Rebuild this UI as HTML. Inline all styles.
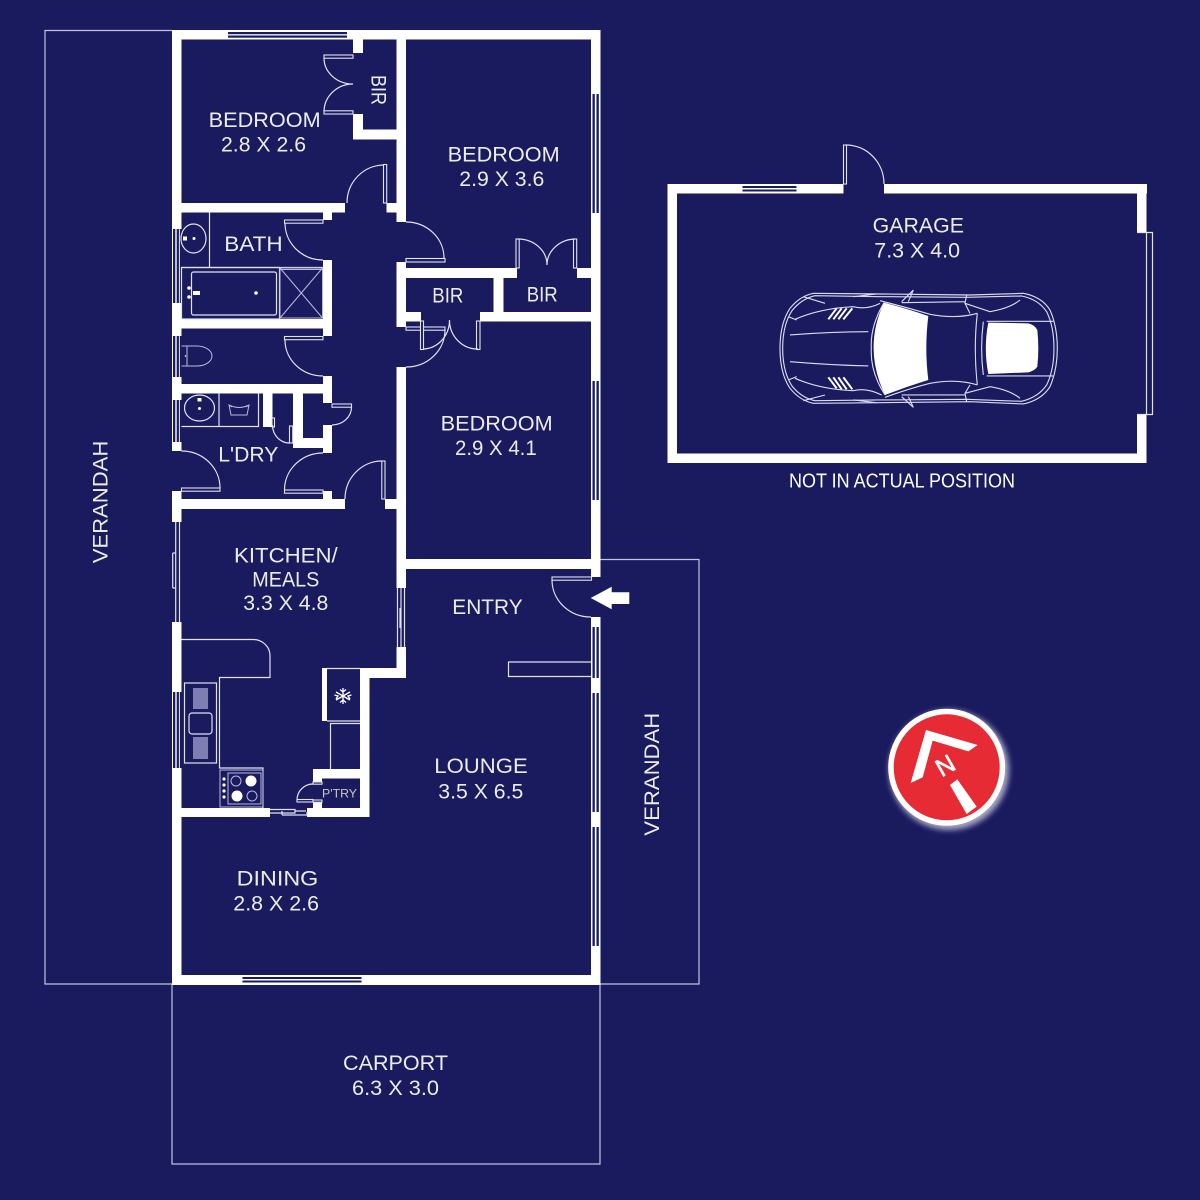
<!DOCTYPE html>
<html><head><meta charset="utf-8"><title>Floor plan</title>
<style>
html,body{margin:0;padding:0;background:#1a1a5f}
svg{display:block}
text{font-family:"Liberation Sans",sans-serif;fill:#ecece6;font-size:21px}
.l{fill:none;stroke:#e2e2f2;stroke-width:1.2}
.d{fill:#1a1a5f;stroke:#e2e2f2;stroke-width:1.1}
.f{fill:none;stroke:#b9b9dc;stroke-width:1}
.c{fill:none;stroke:#dcdcf0;stroke-width:3.4}
</style></head><body>
<svg width="1200" height="1200" viewBox="0 0 1200 1200" xmlns="http://www.w3.org/2000/svg">
<defs><filter id="b" x="-30%" y="-30%" width="160%" height="160%"><feGaussianBlur stdDeviation="3"/></filter></defs>
<rect width="1200" height="1200" fill="#1a1a5f"/>

<g fill="none" stroke="#c4c4e2" stroke-width="1.2">
<path d="M172 30.5H45V984H172"/>
<path d="M600 559.5H699V984H600"/>
<rect x="172" y="984" width="428" height="180"/>
</g>

<g fill="#fff">
<rect x="172" y="30" width="428" height="9.5"/>
<rect x="172" y="30" width="9.5" height="421"/>
<rect x="172" y="491" width="9.5" height="494"/>
<rect x="591" y="30" width="9.5" height="547"/>
<rect x="591" y="617" width="9.5" height="368"/>
<rect x="172" y="975" width="428" height="10"/>
<rect x="396.5" y="30" width="9.5" height="192"/>
<rect x="396.5" y="262" width="9.5" height="65"/>
<rect x="396.5" y="367" width="9.5" height="221"/>
<rect x="396.5" y="647" width="9.5" height="31"/>
<rect x="353" y="39" width="10" height="14"/>
<rect x="353" y="114" width="10" height="25"/>
<rect x="353" y="129.5" width="44" height="10"/>
<rect x="172" y="203" width="173" height="9.5"/>
<rect x="386.5" y="203" width="10" height="9.5"/>
<rect x="323" y="212" width="9" height="8"/>
<rect x="323" y="260" width="9" height="76"/>
<rect x="172" y="319" width="151" height="9.5"/>
<rect x="323" y="376" width="9" height="27"/>
<rect x="172" y="384" width="160" height="9.5"/>
<rect x="323" y="425" width="9" height="28"/>
<rect x="293" y="438" width="39" height="10"/>
<rect x="293" y="393" width="10" height="55"/>
<rect x="263" y="393" width="9.5" height="34"/>
<rect x="323" y="491" width="9" height="8"/>
<rect x="172" y="499" width="173" height="10"/>
<rect x="385" y="499" width="12" height="10"/>
<rect x="406" y="268" width="111" height="10"/>
<rect x="577" y="268" width="14" height="10"/>
<rect x="493.5" y="278" width="10" height="34"/>
<rect x="480" y="312" width="111" height="9.5"/>
<rect x="406" y="312" width="15" height="9.5"/>
<rect x="406" y="559" width="185" height="10"/>
<rect x="360" y="668" width="46" height="10"/>
<rect x="360" y="668" width="9.5" height="149"/>
<rect x="172" y="808" width="98" height="9"/>
<rect x="307" y="808" width="62" height="9"/>
<rect x="313" y="769" width="47" height="9.5"/>
<rect x="313" y="769" width="9" height="14"/>
<rect x="313" y="802" width="9" height="6"/>
<rect x="322" y="668" width="5" height="53"/>
<rect x="667.5" y="184" width="176" height="9.5"/>
<rect x="884" y="184" width="263" height="9.5"/>
<rect x="667.5" y="184" width="9.5" height="279"/>
<rect x="667.5" y="453.5" width="479" height="9.5"/>
<rect x="1137" y="184" width="9.5" height="48.5"/>
<rect x="1137" y="415" width="9.5" height="48"/>
</g>

<g fill="#1a1a5f">
<rect x="228" y="32" width="119" height="2.2"/><rect x="228" y="35.5" width="119" height="2.2"/>
<rect x="242.5" y="977" width="119" height="2"/><rect x="242.5" y="980.5" width="119" height="2"/>
<rect x="742.5" y="186" width="54" height="2"/><rect x="742.5" y="189.5" width="54" height="2"/>
<rect x="592.5" y="94" width="2.3" height="119"/><rect x="596.5" y="94" width="2.3" height="119"/>
<rect x="592.5" y="381" width="2.3" height="119"/><rect x="596.5" y="381" width="2.3" height="119"/>
<rect x="592.5" y="627" width="2.3" height="51"/><rect x="596.5" y="627" width="2.3" height="51"/>
<rect x="592.5" y="693" width="2.3" height="119"/><rect x="596.5" y="693" width="2.3" height="119"/>
<rect x="592.5" y="827" width="2.3" height="119"/><rect x="596.5" y="827" width="2.3" height="119"/>
<rect x="173" y="229" width="2.3" height="74"/><rect x="176.7" y="229" width="2.2" height="74"/><rect x="179.8" y="229" width="1.7" height="74"/>
<rect x="173" y="336" width="2.3" height="41"/><rect x="176.7" y="336" width="2.2" height="41"/><rect x="179.8" y="336" width="1.7" height="41"/>
<rect x="173" y="400" width="2.3" height="42"/><rect x="176.7" y="400" width="2.2" height="42"/><rect x="179.8" y="400" width="1.7" height="42"/>
<rect x="173" y="692" width="2.3" height="76"/><rect x="176.7" y="692" width="2.2" height="76"/><rect x="179.8" y="692" width="1.7" height="76"/>
<rect x="172" y="522" width="9.5" height="100"/>
<rect x="270" y="808" width="37" height="9"/>
</g>

<path class="l" d="M175.7 522V622M179.5 522V622M172.7 553V588M172.7 553H175.7M172.7 588H175.7"/>
<path class="l" d="M397.5 588V647M401 588V647M404.5 588V647M400 608V628"/>
<path class="l" d="M270 809.5H295V813H270M295 811H306M282 815H307V812M282 815V811"/>
<path class="l" d="M1137 232.5H1152.5V414.5H1137M1146.5 232.5V414.5"/>

<g>
<rect class="d" x="324" y="55" width="29" height="3.2"/>
<rect class="d" x="324" y="110.8" width="29" height="3.2"/>
<path class="l" d="M324 58A29 26 0 0 0 353 84A29 28 0 0 0 324 111"/>
<rect class="d" x="383.5" y="164.5" width="3.2" height="38.5"/>
<path class="l" d="M347 203A37 38 0 0 1 384 165"/>
<rect class="d" x="406" y="258.5" width="39" height="3.5"/>
<path class="l" d="M406 222A38 36 0 0 1 444 258"/>
<rect class="d" x="284.5" y="220" width="38.5" height="3.2"/>
<path class="l" d="M285 223A38 37 0 0 0 323 260"/>
<rect class="d" x="284.5" y="336.5" width="38.5" height="3.2"/>
<path class="l" d="M285 340A38 36 0 0 0 323 376"/>
<rect class="d" x="332" y="404" width="19.5" height="3.2"/>
<path class="l" d="M351.5 407A19.5 18 0 0 1 332 425"/>
<rect class="d" x="284.5" y="490" width="38.5" height="3.2"/>
<path class="l" d="M323 453A38.5 37 0 0 0 284.5 490"/>
<rect class="d" x="381.8" y="461" width="3.2" height="38"/>
<path class="l" d="M382 461A37 38 0 0 0 345 499"/>
<rect class="d" x="181.5" y="488" width="38.5" height="3.2"/>
<path class="l" d="M181.5 451A38.5 37 0 0 1 220 488"/>
<rect class="d" x="406" y="327" width="39" height="3.2"/>
<path class="l" d="M445 330A39 37 0 0 1 406 367"/>
<rect class="d" x="552" y="577" width="39.5" height="3.2"/>
<path class="l" d="M552 580A39 37 0 0 0 591 617"/>
<rect class="d" x="516" y="239" width="3.2" height="29"/>
<rect class="d" x="573.5" y="239" width="3.2" height="29"/>
<path class="l" d="M518 239A29 26 0 0 1 547 265A29 26 0 0 1 575 239"/>
<rect class="d" x="420.5" y="321" width="3" height="28.5"/>
<rect class="d" x="476.5" y="321" width="3.5" height="28.5"/>
<path class="l" d="M423 349A27 29 0 0 0 449.5 320A28 29 0 0 0 478 349"/>
<rect class="d" x="843.5" y="145" width="3" height="39"/>
<path class="l" d="M846 145A38 39 0 0 1 884 184"/>
<rect class="d" x="272" y="418" width="2.5" height="9"/>
<rect class="d" x="289.5" y="426" width="3.2" height="17"/>
<path class="l" d="M272.5 425A17 18 0 0 0 290 443"/>
<rect class="d" x="297" y="799.5" width="16" height="2.5"/>
<path class="l" d="M297 800A16 16 0 0 1 313 784"/>
<rect class="d" x="313" y="782" width="9" height="2.2"/>
<rect class="d" x="313" y="800" width="9" height="2.2"/>
</g>

<g>
<path class="l" d="M209.5 212.5V267M181.5 267.5H323"/>
<ellipse class="l" cx="193.5" cy="238.5" rx="12.5" ry="14.5"/>
<rect x="183" y="236.5" width="4" height="4" fill="#fff"/><circle cx="194" cy="238.5" r="1.5" fill="#fff"/>
<rect class="l" x="181.5" y="267.5" width="98" height="51.5"/>
<rect class="l" x="191.5" y="272" width="85" height="43" rx="2"/>
<circle cx="189" cy="288" r="1.8" fill="#fff"/><circle cx="189" cy="297" r="1.8" fill="#fff"/>
<rect x="193" y="291" width="7" height="4" fill="#fff"/><circle cx="256" cy="293" r="1.8" fill="#fff"/>
<rect class="f" x="280" y="268" width="42.5" height="50"/>
<path class="f" d="M280 268L322.5 318M322.5 268L280 318M280 269.5H322.5"/>
<path class="f" d="M181.5 346H187V366H181.5M187 346H197A15 10 0 0 1 197 366H187"/>
<circle cx="185.5" cy="356" r=".8" fill="#fff"/>
<path class="l" d="M181.5 426.5H219V393.5M219 393.5V426.5H258.5V393.5"/>
<ellipse class="l" cx="199.5" cy="408" rx="15" ry="13"/>
<rect x="197.5" y="398" width="4" height="3.5" fill="#fff"/><circle cx="199.5" cy="408.5" r="1.5" fill="#fff"/>
<path class="f" d="M229 405Q239 410 249 405L247 415H231ZM229 405l3 2M249 405l-3 2"/>
<path class="l" d="M181.5 639.5H253A17 16 0 0 1 270 655.5V677.5H219.5V768H263V808"/>
<rect class="l" x="184.5" y="683" width="32" height="80"/>
<rect x="193" y="688" width="15" height="21" fill="#7e7eb4"/>
<rect x="193" y="737" width="15" height="22" fill="#7e7eb4"/>
<rect class="l" x="189" y="713" width="23" height="21" rx="3"/>
<rect class="f" x="220" y="770" width="43" height="37"/>
<rect class="f" x="228" y="773" width="33" height="31"/>
<circle class="f" cx="236" cy="781" r="5"/><circle cx="251" cy="781" r="5.5" fill="#fff"/>
<circle cx="237" cy="796" r="5.5" fill="#fff"/><circle class="f" cx="252" cy="796" r="5"/>
<g fill="#fff"><circle cx="224" cy="779" r="1.6"/><circle cx="224" cy="785" r="1.6"/><circle cx="224" cy="791" r="1.6"/><circle cx="224" cy="797" r="1.6"/></g>
<path class="l" d="M327 668.5H360M327 721H360M330.5 769V723.5H360"/>
<path d="M343 688V704M336 692L350 700M350 692L336 700M340 689.5L343 692L346 689.5M340 702.5L343 700L346 702.5M334.5 695L338 696L336 699M351.5 695L348 696L350 699" fill="none" stroke="#fff" stroke-width="1.3"/>
<path class="l" d="M591 662H508.5V676.5H591"/>
<path fill="#fff" d="M590.7 598L611.7 586.7V592.3H629.3V604H611.7V609.3Z"/>
</g>

<g transform="translate(770 280) scale(.3333)">
<path class="c" d="M30 205Q30 130 60 85Q90 48 130 40L330 42L600 45L760 40Q815 50 840 90Q862 140 862 205Q862 270 840 320Q815 360 760 372L600 365L330 368L130 370Q90 362 60 325Q30 280 30 205Z"/>
<path class="c" d="M38 205Q38 135 66 92Q95 56 135 47L330 50L590 52L755 48Q805 58 830 95Q852 140 852 205Q852 270 830 315Q805 352 755 364L590 358L330 360L135 362Q95 354 66 318Q38 275 38 205Z"/>
<path fill="#fff" d="M342 68Q410 85 475 108Q463 205 475 300Q410 320 345 345Q278 205 342 68Z"/>
<path fill="#fff" d="M655 128L775 130Q795 135 802 150Q808 205 802 260Q795 272 775 277L655 282Q640 205 655 128Z"/>
<path class="c" d="M342 68Q300 140 304 205Q300 275 345 345M330 62Q420 85 480 103Q560 118 622 100M345 352Q420 325 480 310Q560 295 622 315M622 100Q610 205 622 315M640 125Q630 205 640 285M650 124H850M650 288H850M75 118Q150 85 250 80Q290 90 330 70M75 295Q150 328 250 332Q290 322 335 345M60 165Q180 155 295 155M60 245Q180 255 295 258M55 110L80 120M55 300L80 290M590 45L585 70L600 100M590 365L585 340L600 315M585 70L660 95Q720 85 750 60M585 340L660 320Q720 330 750 355M395 65L430 30L415 65M395 350L430 382L415 350M395 68L585 65M395 345L585 345M250 50L320 42M250 360L320 368M100 50L165 70M100 362L165 345"/>
<path d="M175 118L200 85M190 118L215 85M205 118L230 85M220 118L247 85M175 292L200 325M190 292L215 328M205 292L230 328M220 292L247 328" fill="none" stroke="#fff" stroke-width="6"/>
</g>

<circle cx="949" cy="770" r="60" fill="#d8d8ea" opacity=".75" filter="url(#b)"/>
<circle cx="946.7" cy="767.3" r="58.5" fill="#fff"/>
<circle cx="946.7" cy="767.3" r="53" fill="#e62b35"/>
<g transform="translate(870 690) scale(.3333)">
<path fill="#fff" d="M168 120L323 165L295 184L188 152L158 262L122 279Z"/>
<path fill="#fff" d="M240 285L262 268L320 350L290 372Z"/>
</g>
<text transform="translate(949.5 773) rotate(-30)" x="-9" y="0" style="font-size:25px;fill:#fff;stroke:#fff;stroke-width:.6" textLength="18" lengthAdjust="spacingAndGlyphs">N</text>

<g>
<text x="208.7" y="127" textLength="112" lengthAdjust="spacingAndGlyphs">BEDROOM</text>
<text x="221" y="151.7" textLength="85" lengthAdjust="spacingAndGlyphs">2.8 X 2.6</text>
<text transform="translate(371.5 75) rotate(90)" textLength="30" lengthAdjust="spacingAndGlyphs">BIR</text>
<text x="447.7" y="161.3" textLength="112" lengthAdjust="spacingAndGlyphs">BEDROOM</text>
<text x="459.3" y="186.2" textLength="85" lengthAdjust="spacingAndGlyphs">2.9 X 3.6</text>
<text x="224.3" y="251" textLength="58.4" lengthAdjust="spacingAndGlyphs">BATH</text>
<text x="432.3" y="302.5" textLength="31" lengthAdjust="spacingAndGlyphs">BIR</text>
<text x="526.7" y="301.7" textLength="31" lengthAdjust="spacingAndGlyphs">BIR</text>
<text x="218.3" y="461.7" textLength="60" lengthAdjust="spacingAndGlyphs">L'DRY</text>
<text x="440.7" y="430.7" textLength="112" lengthAdjust="spacingAndGlyphs">BEDROOM</text>
<text x="455" y="455" textLength="81.7" lengthAdjust="spacingAndGlyphs">2.9 X 4.1</text>
<text x="234" y="562.3" textLength="103.7" lengthAdjust="spacingAndGlyphs">KITCHEN/</text>
<text x="252.3" y="586.7" textLength="67" lengthAdjust="spacingAndGlyphs">MEALS</text>
<text x="243.3" y="610" textLength="85" lengthAdjust="spacingAndGlyphs">3.3 X 4.8</text>
<text x="452.3" y="614.2" textLength="70.4" lengthAdjust="spacingAndGlyphs">ENTRY</text>
<text x="434.3" y="773.2" textLength="93.4" lengthAdjust="spacingAndGlyphs">LOUNGE</text>
<text x="438.3" y="798.5" textLength="85" lengthAdjust="spacingAndGlyphs">3.5 X 6.5</text>
<text x="236.7" y="885.5" textLength="81.6" lengthAdjust="spacingAndGlyphs">DINING</text>
<text x="233.3" y="910.5" textLength="85.7" lengthAdjust="spacingAndGlyphs">2.8 X 2.6</text>
<text x="872.7" y="232.5" textLength="91.3" lengthAdjust="spacingAndGlyphs">GARAGE</text>
<text x="874.3" y="257.5" textLength="85.7" lengthAdjust="spacingAndGlyphs">7.3 X 4.0</text>
<text x="789" y="487.7" textLength="226" lengthAdjust="spacingAndGlyphs" style="font-size:20px;fill:#fff">NOT IN ACTUAL POSITION</text>
<text x="343" y="1070" textLength="105" lengthAdjust="spacingAndGlyphs">CARPORT</text>
<text x="352" y="1095" textLength="87" lengthAdjust="spacingAndGlyphs">6.3 X 3.0</text>
<text transform="translate(107.7 563.3) rotate(-90)" textLength="122.6" lengthAdjust="spacingAndGlyphs">VERANDAH</text>
<text transform="translate(659 835.7) rotate(-90)" textLength="123" lengthAdjust="spacingAndGlyphs">VERANDAH</text>
<text x="322" y="797.5" textLength="35" lengthAdjust="spacingAndGlyphs" style="font-size:12px;fill:#c8c8c0">P'TRY</text>
</g>
</svg>
</body></html>
